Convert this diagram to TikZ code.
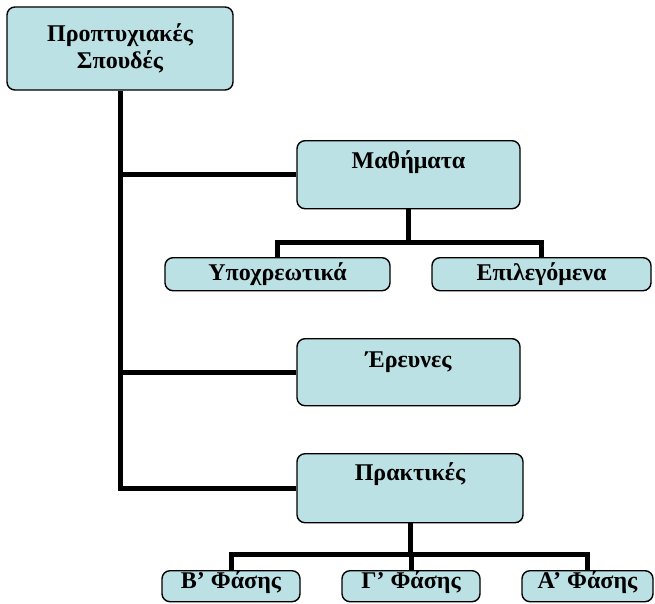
\documentclass[tikz,border=0pt]{standalone}
\usepackage{fontspec}
\setmainfont{Liberation Serif}
\usetikzlibrary{backgrounds}
\definecolor{boxfill}{RGB}{188,225,228}
\tikzset{
  box/.style={draw=black, line width=1.4pt, rounded corners=8pt, fill=boxfill,
    inner sep=0pt, align=center, font=\fontsize{24}{27}\selectfont\bfseries},
  conn/.style={line width=5pt, draw=black}
}
\begin{document}
\begin{tikzpicture}[x=1pt,y=-1pt]
\useasboundingbox (0,0) rectangle (655,603);
\node[box, minimum width=226pt, minimum height=83pt] (top) at (120,48.5) {Προπτυχιακές\\Σπουδές};
\node[box, minimum width=223pt, text height=28pt, text depth=40pt, anchor=north] (math) at (408.5,140) {Μαθήματα};
\node[box, minimum width=225pt, text height=23pt, text depth=10pt, anchor=north] (ypo) at (277.5,257) {Υποχρεωτικά};
\node[box, minimum width=219pt, text height=23pt, text depth=10pt, anchor=north] (epi) at (541.5,257) {Επιλεγόμενα};
\node[box, minimum width=223pt, text height=29pt, text depth=38pt, anchor=north] (erev) at (408.5,338) {Έρευνες};
\node[box, minimum width=226pt, text height=27pt, text depth=42pt, anchor=north] (prakt) at (410,453) {Πρακτικές};
\node[box, minimum width=138pt, text height=18pt, text depth=13pt, anchor=north] (bph) at (231,570) {Β’ Φάσης};
\node[box, minimum width=138pt, text height=18pt, text depth=13pt, anchor=north] (gph) at (411,570) {Γ’ Φάσης};
\node[box, minimum width=131pt, text height=18pt, text depth=13pt, anchor=north] (aph) at (587.5,570) {Α’ Φάσης};
\begin{scope}[on background layer]
\fill[white] (0,0) rectangle (655,603);
\draw[conn] (top.south) |- (prakt.west);
\draw[conn] (top.south |- math.west) -- (math.west);
\draw[conn] (top.south |- erev.west) -- (erev.west);
\draw[conn] (math.south) -- (math.south |- 0,242);
\draw[conn] (ypo.north) |- (math.south |- 0,242) -| (epi.north);
\draw[conn] (prakt.south) -- (prakt.south |- 0,554);
\draw[conn] (bph.north) |- (prakt.south |- 0,554) -| (aph.north);
\draw[conn] (gph.north) -- (gph.north |- 0,554);
\end{scope}
\end{tikzpicture}
\end{document}
